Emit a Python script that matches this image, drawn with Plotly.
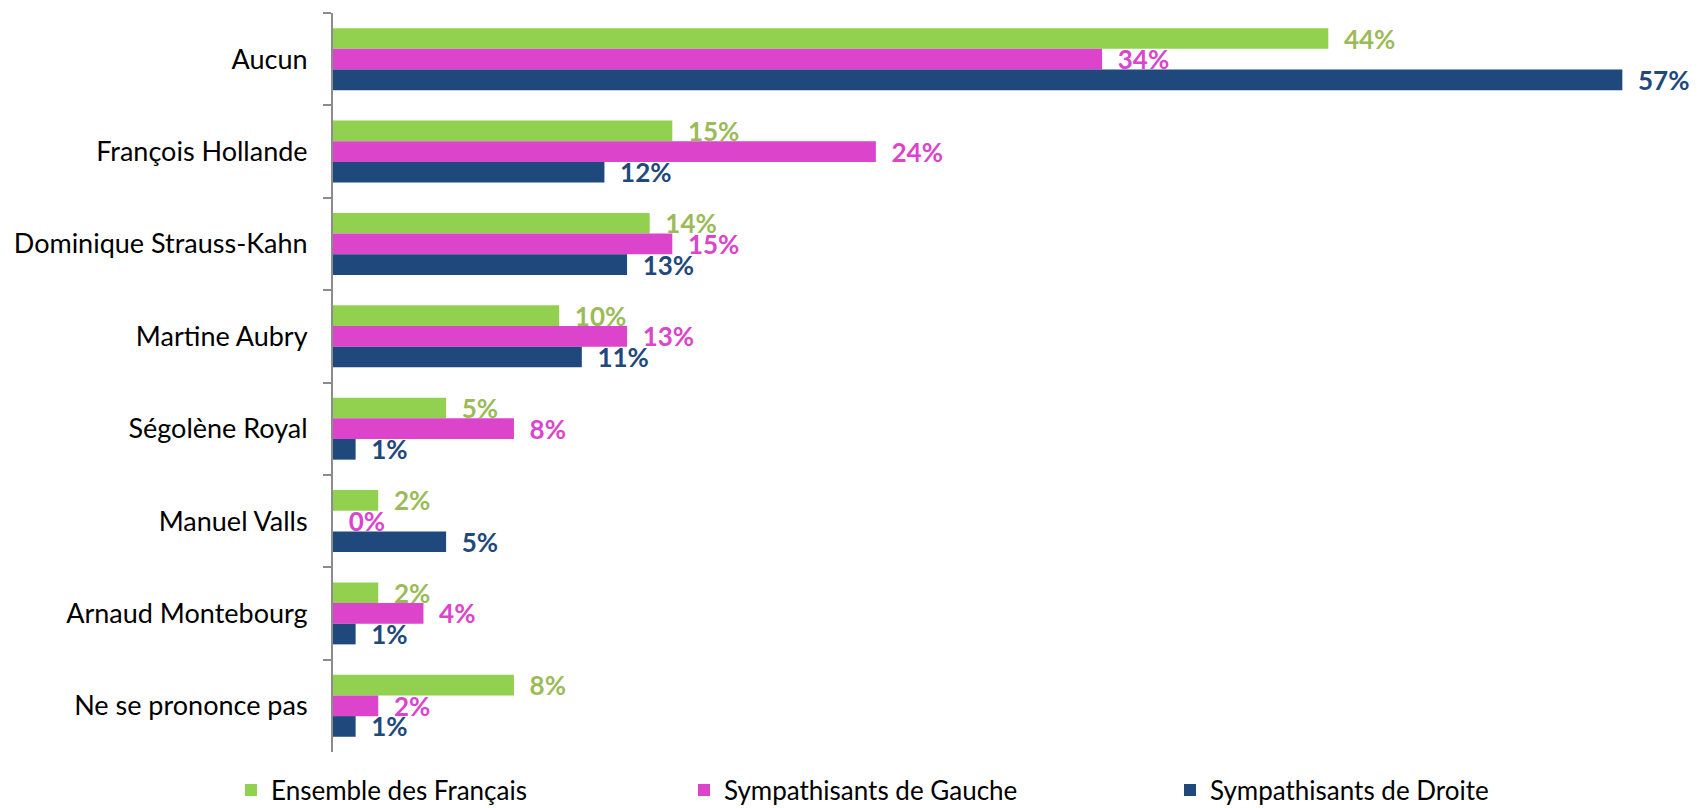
import plotly.graph_objects as go

categories = ["Aucun", "François Hollande", "Dominique Strauss-Kahn", "Martine Aubry",
              "Ségolène Royal", "Manuel Valls", "Arnaud Montebourg", "Ne se prononce pas"]
series_names = ["Ensemble des Français", "Sympathisants de Gauche", "Sympathisants de Droite"]
ensemble = [44, 15, 14, 10, 5, 2, 2, 8]
gauche = [34, 24, 15, 13, 8, 0, 4, 2]
droite = [57, 12, 13, 11, 1, 5, 1, 1]

bar_colors = ["#92D050", "#DD44CC", "#1F497D"]
label_colors = ["#9BBB59", "#DD44CC", "#1F497D"]
legend_ids = ["legend", "legend2", "legend3"]

W, H = 1700, 800
legend_left_px = [223, 676, 1162]

fig = go.Figure()
for name, vals, bc, lc, lid in zip(series_names, [ensemble, gauche, droite], bar_colors, label_colors, legend_ids):
    fig.add_trace(go.Bar(
        y=categories, x=vals, name=name, orientation="h",
        marker=dict(color=bc, line=dict(width=0)),
        text=[f"\u00a0\u00a0{v}%" for v in vals],
        textposition="outside", constraintext="none", cliponaxis=False,
        textfont=dict(family="Lato", size=26, color=lc, weight="bold"),
        hoverinfo="skip", legend=lid,
    ))

legend_common = dict(orientation="h", xref="container", xanchor="left",
                     yref="container", y=18/H, yanchor="middle",
                     font=dict(family="Lato", size=26, color="black"),
                     itemwidth=30, bgcolor="rgba(0,0,0,0)")

fig.update_layout(
    width=W, height=H,
    margin=dict(l=325, r=11, t=5, b=56, autoexpand=False),
    paper_bgcolor="white", plot_bgcolor="white",
    barmode="group", bargap=0.33, bargroupgap=0,
    font=dict(family="Lato", size=26, color="black"),
    showlegend=True,
    legend=dict(x=legend_left_px[0]/W, **legend_common),
    legend2=dict(x=legend_left_px[1]/W, **legend_common),
    legend3=dict(x=legend_left_px[2]/W, **legend_common),
    xaxis=dict(range=[0, 60.3], visible=False, showgrid=False, zeroline=False),
    yaxis=dict(autorange="reversed", showline=True, linecolor="#8C8C8C", linewidth=2,
               ticks="outside", ticklen=8, tickcolor="#8C8C8C", tickwidth=2,
               tickson="boundaries", ticklabelstandoff=18, showgrid=False,
               tickfont=dict(family="Lato", size=27, color="black")),
)

fig.write_html("out.html")
